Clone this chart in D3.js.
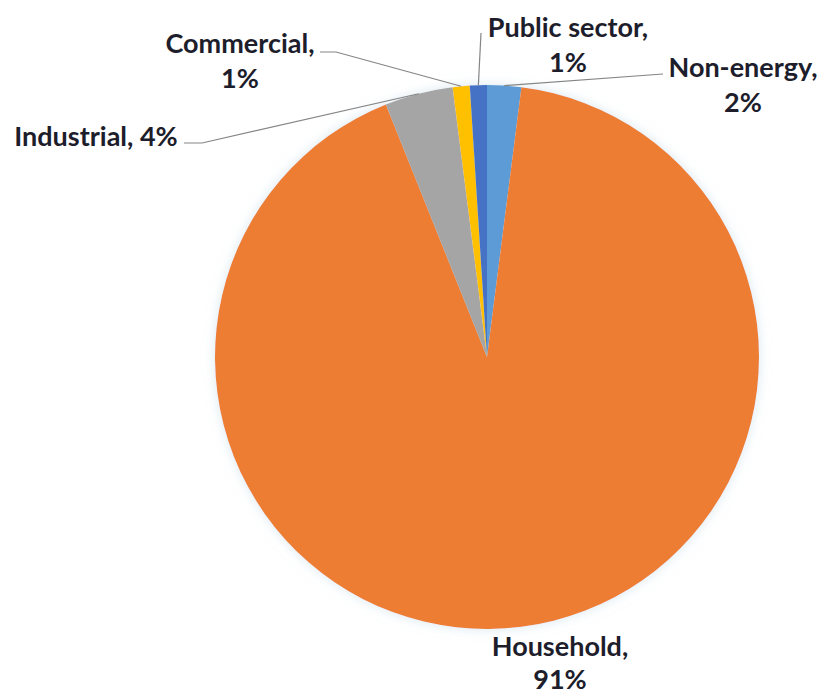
<!DOCTYPE html>
<html>
<head>
<meta charset="utf-8">
<script src="https://cdn.jsdelivr.net/npm/d3@7/dist/d3.min.js"></script>
<style>
  html, body { margin: 0; padding: 0; background: #ffffff; }
  svg { display: block; }
  .lbl { font-family: Lato, "Open Sans", sans-serif; font-weight: 700; fill: #1d1d2b; }
</style>
</head>
<body>
<svg id="chart" width="821" height="696"></svg>
<script>
// Sectors in clockwise order starting at 12 o'clock
const categories = ["Non-energy", "Household", "Industrial", "Commercial", "Public sector"];
const shares = [2, 91, 4, 1, 1];
const colors = ["#5b9bd5", "#ed7d31", "#a5a5a5", "#ffc000", "#4472c4"];

// Label placement: text centre x, first baseline y, line gap, and leader line start (null = none)
const labelLayout = {
  "Non-energy":    { x: 743, y: 77,  gap: 35, lines: ["Non-energy,", "2%"], leader: [[663, 74]] },
  "Household":     { x: 560, y: 656, gap: 33, lines: ["Household,", "91%"], leader: null },
  "Industrial":    { x: 96,  y: 146, gap: 35, lines: ["Industrial, 4%"], leader: [[184, 143], [202, 143]] },
  "Commercial":    { x: 240, y: 53,  gap: 35, lines: ["Commercial,", "1%"], leader: [[320, 52], [336, 52]] },
  "Public sector": { x: 568, y: 37,  gap: 35, lines: ["Public sector,", "1%"], leader: [[481, 33]] }
};

const cx = 487, cy = 357, radius = 272;

const svg = d3.select("#chart");
const defs = svg.append("defs");
const shadow = defs.append("filter").attr("id", "halo")
  .attr("x", "-10%").attr("y", "-10%").attr("width", "120%").attr("height", "120%");
shadow.append("feGaussianBlur").attr("in", "SourceAlpha").attr("stdDeviation", 6).attr("result", "b");
shadow.append("feFlood").attr("flood-color", "#b9d3e3").attr("flood-opacity", 0.55);
shadow.append("feComposite").attr("in2", "b").attr("operator", "in").attr("result", "s");
const merge = shadow.append("feMerge");
merge.append("feMergeNode").attr("in", "s");
merge.append("feMergeNode").attr("in", "SourceGraphic");

const color = d3.scaleOrdinal().domain(categories).range(colors);

const pie = d3.pie().sort(null).value(d => d.value);
const arcs = pie(categories.map((c, i) => ({ name: c, value: shares[i] })));
const arc = d3.arc().innerRadius(0).outerRadius(radius);

const g = svg.append("g").attr("transform", `translate(${cx},${cy})`);
g.append("g").attr("filter", "url(#halo)")
  .selectAll("path")
  .data(arcs)
  .join("path")
  .attr("d", arc)
  .attr("fill", d => color(d.data.name));

// Leader lines from each label to the outer edge of its slice
const edgePoint = d => {
  const a = (d.startAngle + d.endAngle) / 2;
  return [cx + radius * Math.sin(a), cy - radius * Math.cos(a)];
};
const line = d3.line();
svg.append("g").selectAll("path")
  .data(arcs.filter(d => labelLayout[d.data.name].leader))
  .join("path")
  .attr("d", d => line([...labelLayout[d.data.name].leader, edgePoint(d)]))
  .attr("fill", "none")
  .attr("stroke", "#858585")
  .attr("stroke-width", 1.2);

// Data labels
const labels = svg.append("g").selectAll("text")
  .data(arcs)
  .join("text")
  .attr("class", "lbl")
  .attr("text-anchor", "middle")
  .attr("font-size", 27)
  .attr("x", d => labelLayout[d.data.name].x)
  .attr("y", d => labelLayout[d.data.name].y);
labels.selectAll("tspan")
  .data(d => {
    const L = labelLayout[d.data.name];
    return L.lines.map(t => ({ t, x: L.x, gap: L.gap }));
  })
  .join("tspan")
  .attr("x", d => d.x)
  .attr("dy", (d, i) => i === 0 ? 0 : d.gap)
  .text(d => d.t);
</script>
</body>
</html>
